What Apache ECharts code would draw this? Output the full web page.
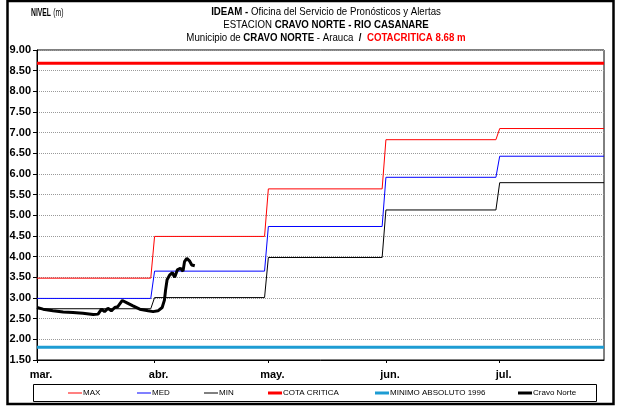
<!DOCTYPE html>
<html>
<head>
<meta charset="utf-8">
<script src="https://cdn.jsdelivr.net/npm/echarts@6/dist/echarts.min.js"></script>
<style>
  html, body { margin: 0; padding: 0; background: #fff; }
  #chart { width: 619px; height: 408px; }
</style>
</head>
<body>
<div id="chart"></div>
<script>
// Month ticks (days counted from 1 March) and their labels
const monthStartDays = [0, 31, 61, 92, 122];
const monthLabels = ['mar.', 'abr.', 'may.', 'jun.', 'jul.'];
const axisEndDay = 149.5;

// Monthly reference levels (m)
const maxLevels = [3.48, 4.49, 5.64, 6.83, 7.10];
const medLevels = [2.99, 3.65, 4.73, 5.92, 6.43];
const minLevels = [2.74, 3.01, 3.98, 5.13, 5.79];

// Thresholds (m)
const cotaCritica = 8.68;
const minimoAbsoluto1996 = 1.81;

// Observed level at Cravo Norte station (day since 1 March, level in m)
const obsDays = [0, 1.6, 4.2, 6.9, 9.5, 12.1, 14.8, 16.1, 17.0, 17.8, 18.7, 19.6, 20.5, 21.3, 22.5, 23.6,
  25.3, 27.1, 29.3, 30.6, 31.9, 33.0, 33.6, 33.9, 34.3, 35.0, 35.7, 36.3, 37.0, 37.8, 38.5, 38.9,
  39.5, 40.2, 40.8, 41.6];
const obsLevels = [2.77, 2.73, 2.69, 2.66, 2.65, 2.63, 2.60, 2.61, 2.73, 2.67, 2.75, 2.69, 2.77, 2.79, 2.94, 2.89,
  2.81, 2.73, 2.69, 2.67, 2.69, 2.77, 2.95, 3.19, 3.44, 3.56, 3.61, 3.50, 3.68, 3.72, 3.65, 3.88,
  3.96, 3.90, 3.80, 3.78];

// Daily step series: each month holds its value until the last day, then jumps on the 1st
function monthlySteps(levels) {
  const pts = [];
  for (let i = 0; i < levels.length; i++) {
    const start = monthStartDays[i];
    const end = i + 1 < monthStartDays.length ? monthStartDays[i + 1] - 1 : axisEndDay;
    pts.push([start, levels[i]], [end, levels[i]]);
  }
  return pts;
}

const SANS = '"Liberation Sans", Arial, sans-serif';

const chart = echarts.init(document.getElementById('chart'), null, { renderer: 'canvas' });

function lineSeries(name, data, color, width, z) {
  return {
    name, type: 'line', data, symbol: 'none', z: z || 2,
    lineStyle: { color, width }, itemStyle: { color },
    animation: false, silent: true
  };
}

// one legend entry, drawn as a short bar of the series' line thickness
function legendItem(name, left, thickness) {
  return {
    data: [name], left, top: 389, icon: 'rect',
    itemWidth: 14, itemHeight: thickness, itemGap: 0,
    padding: 0, selectedMode: false,
    textStyle: { fontFamily: SANS, fontSize: 8, color: '#000', padding: [0, 0, 0, -4] }
  };
}

const option = {
  backgroundColor: '#fff',
  animation: false,
  grid: {
    left: 37, right: 15, top: 50, bottom: 48,
    show: true, borderColor: '#000', borderWidth: 1, backgroundColor: 'transparent'
  },
  xAxis: {
    type: 'value', min: 0, max: axisEndDay,
    axisLine: { show: true, lineStyle: { color: '#000', width: 1 } },
    axisTick: { show: true, customValues: monthStartDays, length: 3, lineStyle: { color: '#000' } },
    axisLabel: {
      customValues: monthStartDays,
      formatter: v => monthLabels[monthStartDays.indexOf(v)] || '',
      fontFamily: SANS, fontWeight: 'bold', fontSize: 11, color: '#000', margin: 9,
      padding: [0, 0, 0, 8]
    },
    splitLine: { show: false }
  },
  yAxis: {
    type: 'value', min: 1.5, max: 9, interval: 0.5,
    axisLine: { show: true, lineStyle: { color: '#000', width: 1 } },
    axisTick: { show: true, length: 4, lineStyle: { color: '#000' } },
    axisLabel: {
      formatter: v => v.toFixed(2),
      fontFamily: SANS, fontWeight: 'bold', fontSize: 11, color: '#000', margin: 6
    },
    splitLine: { show: true, lineStyle: { color: '#9a9a9a', type: [1, 1], width: 1 } }
  },
  legend: [
    legendItem('MAX', 68, 1),
    legendItem('MED', 137, 1),
    legendItem('MIN', 204, 1),
    legendItem('COTA CRITICA', 268, 3),
    legendItem('MINIMO ABSOLUTO 1996', 375, 3),
    legendItem('Cravo Norte', 518, 3)
  ],
  series: [
    lineSeries('MAX', monthlySteps(maxLevels), '#ff0000', 1),
    lineSeries('MED', monthlySteps(medLevels), '#0000ff', 1),
    lineSeries('MIN', monthlySteps(minLevels), '#000000', 1),
    lineSeries('COTA CRITICA', [[0, cotaCritica], [axisEndDay, cotaCritica]], '#ff0000', 3),
    lineSeries('MINIMO ABSOLUTO 1996', [[0, minimoAbsoluto1996], [axisEndDay, minimoAbsoluto1996]], '#1d9cd3', 3),
    lineSeries('Cravo Norte', obsDays.map((d, i) => [d, obsLevels[i]]), '#000000', 3, 5)
  ],
  graphic: [
    // outer frame
    { type: 'rect', z: 100, silent: true,
      shape: { x: 7.5, y: 1, width: 606, height: 403 },
      style: { fill: null, stroke: '#000', lineWidth: 2.5 } },
    // legend box
    { type: 'rect', z: 100, silent: true,
      shape: { x: 33.5, y: 384.5, width: 563, height: 17 },
      style: { fill: null, stroke: '#000', lineWidth: 1 } },
    // axis caption
    { type: 'text', z: 100, silent: true, x: 31, y: 7, scaleX: 0.68,
      style: {
        x: 0, y: 0,
        text: '{b|NIVEL} {n|(m)}',
        rich: {
          b: { fontFamily: SANS, fontWeight: 'bold', fontSize: 10, fill: '#000' },
          n: { fontFamily: SANS, fontSize: 10, fill: '#000' }
        }
      } },
    // title block, horizontally condensed
    { type: 'text', z: 100, silent: true, x: 326, y: 5, scaleX: 0.88,
      style: {
        x: 0, y: 0, align: 'center',
        text: '{b|IDEAM -}{n| Oficina del Servicio de Pronósticos y Alertas}\n' +
              '{n|ESTACION }{b|CRAVO NORTE - RIO CASANARE}\n' +
              '{n|Municipio de }{b|CRAVO NORTE}{n| - Arauca  }{b|/  }{r|COTACRITICA 8.68 m}',
        rich: {
          b: { fontFamily: SANS, fontWeight: 'bold', fontSize: 11, fill: '#000', lineHeight: 13 },
          n: { fontFamily: SANS, fontSize: 11, fill: '#000', lineHeight: 13 },
          r: { fontFamily: SANS, fontWeight: 'bold', fontSize: 11, fill: '#ff0000', lineHeight: 13 }
        }
      } }
  ]
};

chart.setOption(option);
</script>
</body>
</html>
